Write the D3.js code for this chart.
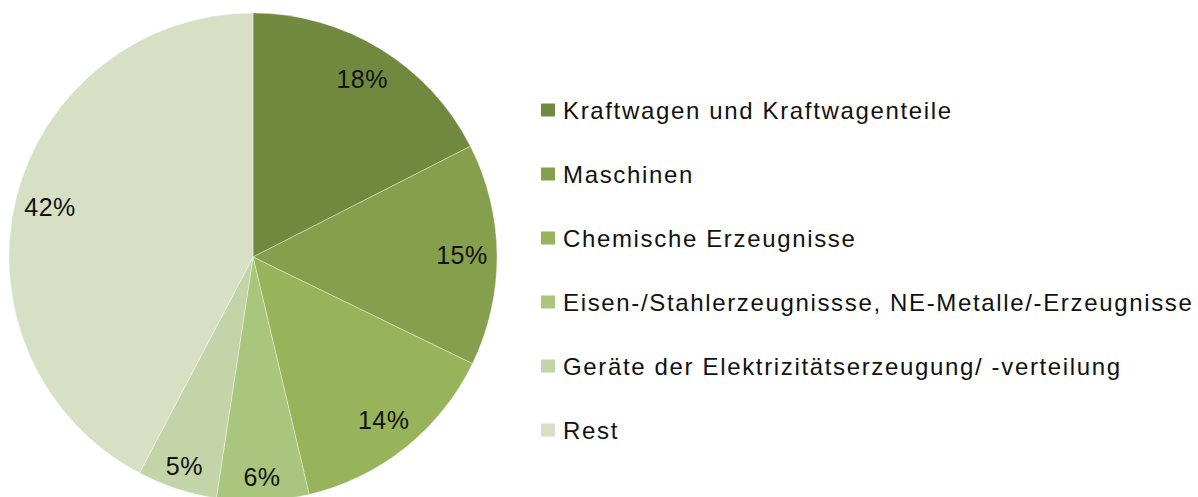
<!DOCTYPE html>
<html>
<head>
<meta charset="utf-8">
<script src="https://cdn.jsdelivr.net/npm/d3@7"></script>
<style>
  html, body { margin: 0; padding: 0; background: #fff; }
  svg { display: block; }
  text { font-family: "Liberation Sans", Arial, sans-serif; }
</style>
</head>
<body>
<div id="chart"></div>
<script>
// shares of export volume
const categories = [
  "Kraftwagen und Kraftwagenteile",
  "Maschinen",
  "Chemische Erzeugnisse",
  "Eisen-/Stahlerzeugnissse, NE-Metalle/-Erzeugnisse",
  "Geräte der Elektrizitätserzeugung/ -verteilung",
  "Rest"
];
const values = [17.5, 14.7, 14.1, 6.1, 5.3, 42.3];
const pctLabels = ["18%", "15%", "14%", "6%", "5%", "42%"];
const colors = ["#71893f", "#859f4c", "#97b45a", "#aac57d", "#c3d4a8", "#d7e0c5"];

const cx = 253, cy = 257, radius = 244;

const svg = d3.select("#chart")
  .append("svg")
  .attr("width", 1198)
  .attr("height", 497);

const pie = d3.pie().value(d => d).sort(null);
const arcs = pie(values);

const arc = d3.arc().innerRadius(0).outerRadius(radius);
// narrow slices get their label a bit further out
const arcLabel = d3.arc().innerRadius(209).outerRadius(209);
const arcLabelSmall = d3.arc().innerRadius(220).outerRadius(220);
const labelPos = d => (d.value < 10 ? arcLabelSmall : arcLabel).centroid(d);

const pieG = svg.append("g").attr("transform", `translate(${cx},${cy})`);

pieG.selectAll("path")
  .data(arcs)
  .enter()
  .append("path")
  .attr("d", arc)
  .attr("fill", (d, i) => colors[i])
  .attr("stroke", "rgba(255,255,255,0.45)")
  .attr("stroke-width", 0.8);

pieG.selectAll("text.pct")
  .data(arcs)
  .enter()
  .append("text")
  .attr("class", "pct")
  .attr("x", d => labelPos(d)[0])
  .attr("y", d => labelPos(d)[1])
  .attr("dy", "0.36em")
  .attr("text-anchor", "middle")
  .style("font-size", "25px")
  .style("letter-spacing", "0.5px")
  .style("fill", "#111")
  .text((d, i) => pctLabels[i]);

// legend
const legendY = d3.scalePoint()
  .domain(categories)
  .range([110, 430]);

const items = svg.append("g")
  .selectAll("g")
  .data(categories)
  .enter()
  .append("g")
  .attr("transform", d => `translate(541,${legendY(d)})`);

items.append("rect")
  .attr("x", 0)
  .attr("y", -6.5)
  .attr("width", 14)
  .attr("height", 13)
  .attr("fill", (d, i) => colors[i]);

items.append("text")
  .attr("x", 22)
  .attr("dy", "0.36em")
  .style("font-size", "24px")
  .style("letter-spacing", "1.65px")
  .style("fill", "#111")
  .text(d => d);
</script>
</body>
</html>
